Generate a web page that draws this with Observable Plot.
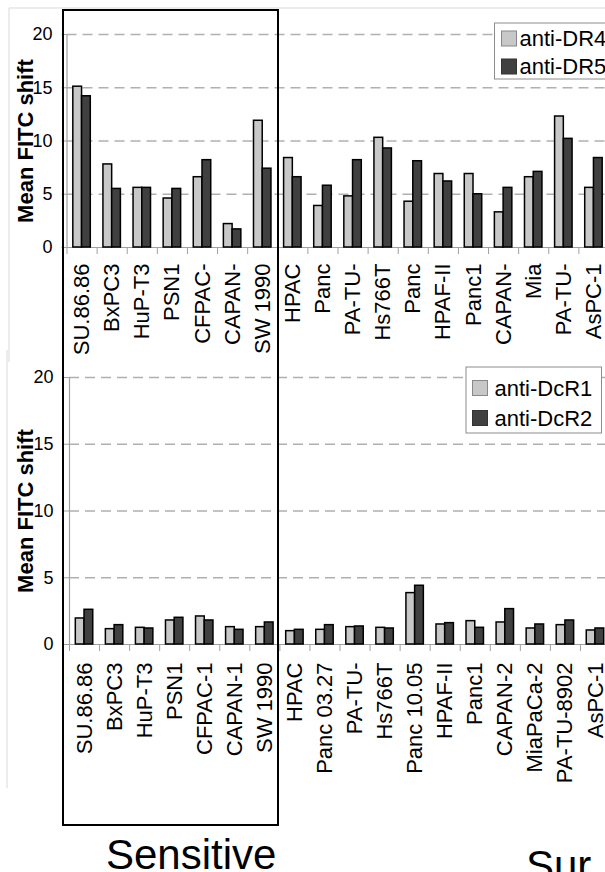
<!DOCTYPE html>
<html>
<head>
<meta charset="utf-8">
<script src="https://cdn.jsdelivr.net/npm/d3@7"></script>
<script src="https://cdn.jsdelivr.net/npm/@observablehq/plot@0.6"></script>
<style>
  html, body { margin: 0; padding: 0; background: #fff; }
  #page { position: relative; width: 605px; height: 872px; overflow: hidden;
          font-family: "Liberation Sans", Arial, sans-serif; }
  #page > svg { position: absolute; left: 0; }
</style>
</head>
<body>
<div id="page"></div>
<script>
// Cell lines (labels as printed under each panel)
const labelsDR = ["SU.86.86", "BxPC3", "HuP-T3", "PSN1", "CFPAC-", "CAPAN-", "SW 1990",
  "HPAC", "Panc", "PA-TU-", "Hs766T", "Panc", "HPAF-II", "Panc1", "CAPAN-", "Mia", "PA-TU-", "AsPC-1"];
const labelsDcR = ["SU.86.86", "BxPC3", "HuP-T3", "PSN1", "CFPAC-1", "CAPAN-1", "SW 1990",
  "HPAC", "Panc 03.27", "PA-TU-", "Hs766T", "Panc 10.05", "HPAF-II", "Panc1", "CAPAN-2",
  "MiaPaCa-2", "PA-TU-8902", "AsPC-1"];

// Series names
const seriesDR = ["anti-DR4", "anti-DR5"];
const seriesDcR = ["anti-DcR1", "anti-DcR2"];

// Mean FITC shift per cell line
const antiDR4 = [15.1, 7.8, 5.6, 4.6, 6.6, 2.2, 11.9, 8.4, 3.9, 4.8, 10.3, 4.3, 6.9, 6.9, 3.3, 6.6, 12.3, 5.6];
const antiDR5 = [14.2, 5.5, 5.6, 5.5, 8.2, 1.7, 7.4, 6.6, 5.8, 8.2, 9.3, 8.1, 6.2, 5.0, 5.6, 7.1, 10.2, 8.4];
const antiDcR1 = [1.95, 1.15, 1.25, 1.8, 2.1, 1.3, 1.3, 1.0, 1.1, 1.3, 1.25, 3.85, 1.5, 1.75, 1.65, 1.2, 1.45, 1.05];
const antiDcR2 = [2.6, 1.45, 1.2, 2.0, 1.8, 1.1, 1.65, 1.1, 1.45, 1.35, 1.2, 4.4, 1.6, 1.25, 2.65, 1.5, 1.8, 1.2];

// Y ticks and groups
const yTicks = [0, 5, 10, 15, 20];
const groupLabels = ["Sensitive", "Sur"];
const yTitle = "Mean FITC shift";

const FONT = "Liberation Sans, Arial, sans-serif";
const LIGHT = "#c8c8c8", DARK = "#404040", AXIS = "#a0a0a0";

function panel({labels, series, values, height, marginTop, marginBottom, marginLeft, marginRight, tickPadding, labelPadding}) {
  const rows = [];
  values.forEach((vals, s) => vals.forEach((v, i) => rows.push({i, s, v, name: series[s]})));
  const n = labels.length;
  const half = 0.29; // each bar takes this share of a category slot
  return Plot.plot({
    width: 610, height, marginTop, marginBottom, marginLeft, marginRight,
    style: {maxWidth: "none", background: "transparent", fontFamily: FONT, color: "#000", overflow: "visible"},
    x: {type: "linear", domain: [0, n], axis: null},
    y: {domain: [0, 20], axis: null},
    color: {domain: series, range: [LIGHT, DARK]},
    marks: [
      Plot.gridY({ticks: yTicks.filter(t => t > 0), stroke: "#b0b0b0", strokeOpacity: 1, strokeWidth: 1.3, strokeDasharray: "10,6"}),
      Plot.ruleY([0], {stroke: AXIS, strokeWidth: 1.2}),
      Plot.ruleX([0], {y1: 0, y2: 20, stroke: AXIS, strokeWidth: 1.2}),
      Plot.axisY({ticks: yTicks, tickSize: 5, tickPadding, fontSize: 18, fontFamily: FONT, stroke: AXIS, label: null}),
      Plot.axisX({ticks: d3.range(n + 1), tickSize: 7, tickFormat: () => "", stroke: AXIS, label: null}),
      Plot.axisX({ticks: d3.range(n).map(i => i + 0.5), tickSize: 0, tickPadding: labelPadding,
        tickRotate: -90, tickFormat: t => labels[Math.floor(t)], fontSize: 22, fontFamily: FONT, label: null}),
      Plot.rectY(rows, {
        x1: d => d.i + 0.5 - half + d.s * half,
        x2: d => d.i + 0.5 + d.s * half,
        y: "v", fill: "name", stroke: "#000", strokeWidth: 1.5
      }),
      Plot.text([yTitle], {frameAnchor: "left", textAnchor: "middle", dx: -41.5 - (marginLeft - 66.5), rotate: -90,
        fontSize: 22, fontWeight: "bold", fontFamily: FONT, fill: "#000"})
    ]
  });
}

const page = document.getElementById("page");

const chartDR = panel({labels: labelsDR, series: seriesDR, values: [antiDR4, antiDR5],
  height: 362, marginTop: 34, marginBottom: 115, marginLeft: 66.5, marginRight: 1.5,
  tickPadding: 9.5, labelPadding: 16});
chartDR.style.top = "0px";
page.appendChild(chartDR);

const chartDcR = panel({labels: labelsDcR, series: seriesDcR, values: [antiDcR1, antiDcR2],
  height: 440, marginTop: 27, marginBottom: 146, marginLeft: 69, marginRight: 0,
  tickPadding: 11, labelPadding: 18});
chartDcR.style.top = "350px";
page.appendChild(chartDcR);

// Frames, group box, legends and group captions
const overlay = d3.select(page).append("svg")
  .attr("width", 605).attr("height", 872)
  .style("top", "0px").style("font-family", FONT);

overlay.append("path").attr("d", "M9,8H605M9,8V362M7,350V788")
  .attr("fill", "none").attr("stroke", "#d9d9d9").attr("stroke-width", 1);

overlay.append("rect").attr("x", 63).attr("y", 10).attr("width", 215).attr("height", 815)
  .attr("fill", "none").attr("stroke", "#000").attr("stroke-width", 2);

function legend(names, {x, y, w, h, swatchX, swatchY, rowStep, textX}) {
  const g = overlay.append("g");
  g.append("rect").attr("x", x).attr("y", y).attr("width", w).attr("height", h)
    .attr("fill", "#fff").attr("stroke", "#8c8c8c").attr("stroke-width", 1);
  names.forEach((name, k) => {
    g.append("rect").attr("x", swatchX).attr("y", swatchY + k * rowStep).attr("width", 15).attr("height", 15)
      .attr("fill", k ? DARK : LIGHT).attr("stroke", k ? "#333" : "#888").attr("stroke-width", 1);
    g.append("text").attr("x", textX).attr("y", swatchY + 7.5 + k * rowStep).attr("dy", "0.36em")
      .attr("font-size", 22).attr("fill", "#000").text(name);
  });
}
legend(seriesDR, {x: 494.5, y: 23, w: 120, h: 56, swatchX: 501.5, swatchY: 31, rowStep: 28, textX: 519.5});
legend(seriesDcR, {x: 466, y: 367, w: 135.5, h: 66, swatchX: 472.5, swatchY: 380.5, rowStep: 30, textX: 494.5});

overlay.append("text").attr("x", 106).attr("y", 869).attr("font-size", 42).attr("fill", "#000").text(groupLabels[0]);
overlay.append("text").attr("x", 526).attr("y", 880).attr("font-size", 42).attr("fill", "#000").text(groupLabels[1]);
</script>
</body>
</html>
